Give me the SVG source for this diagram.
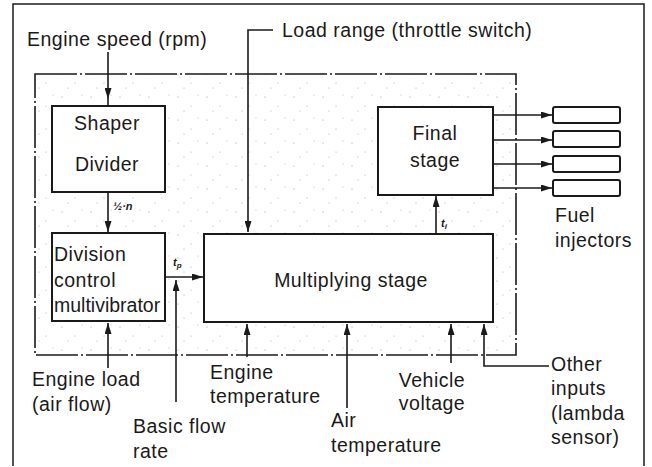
<svg xmlns="http://www.w3.org/2000/svg" width="652" height="467" viewBox="0 0 652 467">
<style>
text{font-family:"Liberation Sans",Arial,sans-serif;font-size:19.5px;letter-spacing:0.5px;fill:#1a1a1a}
.mid{text-anchor:middle}
.sym{font-size:11px;font-weight:bold;font-style:italic;letter-spacing:0}
.box{fill:#fff;stroke:#1a1a1a;stroke-width:2}
.ln{fill:none;stroke:#1a1a1a;stroke-width:1.6}
.frame{fill:none;stroke:#1a1a1a;stroke-width:1.5}
.unit{fill:url(#stip);stroke:#1a1a1a;stroke-width:1.6;stroke-dasharray:42 3 2 3}
</style>
<defs>
<marker id="ah" markerUnits="userSpaceOnUse" markerWidth="11" markerHeight="7" refX="11" refY="3.5" orient="auto">
<path d="M0,0 L11,3.5 L0,7 z" fill="#1a1a1a"/>
</marker>
<pattern id="stip" width="29" height="23" patternUnits="userSpaceOnUse">
<rect width="29" height="23" fill="#fff"/>
<circle cx="4" cy="5" r="0.6" fill="#999"/>
<circle cx="17" cy="14" r="0.6" fill="#aaa"/>
<circle cx="24" cy="3" r="0.5" fill="#aaa"/>
<circle cx="10" cy="19" r="0.5" fill="#999"/>
</pattern>
</defs>
<path class="frame" d="M13,466 V4 H644 V466"/>
<rect id="control-unit" class="unit" x="35" y="74" width="481" height="281"/>

<g id="shaper">
<rect class="box" x="52" y="106" width="113" height="86"/>
<text class="mid" x="107" y="130">Shaper</text>
<text class="mid" x="107" y="171">Divider</text>
</g>
<g id="division">
<rect class="box" x="52" y="233" width="113" height="88"/>
<text x="54" y="261">Division</text>
<text x="54" y="287">control</text>
<text x="54" y="312" style="letter-spacing:0">multivibrator</text>
</g>
<g id="multiplying">
<rect class="box" x="204" y="234" width="289" height="88"/>
<text class="mid" x="351" y="287">Multiplying stage</text>
</g>
<g id="final">
<rect class="box" x="378" y="107" width="115" height="88"/>
<text class="mid" x="435" y="140">Final</text>
<text class="mid" x="435" y="167">stage</text>
</g>
<g id="injectors">
<rect class="box" x="553" y="107" width="67" height="16" rx="2"/>
<rect class="box" x="553" y="131" width="67" height="16" rx="2"/>
<rect class="box" x="553" y="156" width="67" height="16" rx="2"/>
<rect class="box" x="553" y="180" width="67" height="16" rx="2"/>
<text x="555" y="222">Fuel</text>
<text x="555" y="247">injectors</text>
</g>

<g id="connectors">
<line class="ln" x1="108" y1="52" x2="108" y2="99" marker-end="url(#ah)"/>
<line class="ln" x1="108" y1="99" x2="108" y2="106"/>
<path class="ln" d="M273,30 H248 V232" marker-end="url(#ah)"/>
<line class="ln" x1="108" y1="192" x2="108" y2="232" marker-end="url(#ah)"/>
<line class="ln" x1="165" y1="277" x2="203" y2="277" marker-end="url(#ah)"/>
<line class="ln" x1="176" y1="402" x2="176" y2="280" marker-end="url(#ah)"/>
<line class="ln" x1="108" y1="368" x2="108" y2="323" marker-end="url(#ah)"/>
<line class="ln" x1="247" y1="357" x2="247" y2="324" marker-end="url(#ah)"/>
<line class="ln" x1="347" y1="408" x2="347" y2="324" marker-end="url(#ah)"/>
<line class="ln" x1="451" y1="363" x2="451" y2="324" marker-end="url(#ah)"/>
<path class="ln" d="M549,366 H484 V324" marker-end="url(#ah)"/>
<line class="ln" x1="436" y1="234" x2="436" y2="196" marker-end="url(#ah)"/>
<line class="ln" x1="493" y1="115" x2="552" y2="115" marker-end="url(#ah)"/>
<line class="ln" x1="493" y1="140" x2="552" y2="140" marker-end="url(#ah)"/>
<line class="ln" x1="493" y1="164" x2="552" y2="164" marker-end="url(#ah)"/>
<line class="ln" x1="493" y1="188" x2="552" y2="188" marker-end="url(#ah)"/>
<text class="sym" x="113" y="210">½·n</text>
<text class="sym" x="173" y="266">t<tspan font-size="8" dy="2">p</tspan></text>
<text class="sym" x="441" y="227">t<tspan font-size="8" dy="2">i</tspan></text>
</g>

<g id="labels">
<text x="27" y="46">Engine speed (rpm)</text>
<text x="282" y="37">Load range (throttle switch)</text>
<text x="32" y="386">Engine load</text>
<text x="32" y="411">(air flow)</text>
<text x="133" y="433">Basic flow</text>
<text x="133" y="458">rate</text>
<text x="210" y="379">Engine</text>
<text x="210" y="403">temperature</text>
<text x="331" y="427">Air</text>
<text x="331" y="452">temperature</text>
<text class="mid" x="432" y="387">Vehicle</text>
<text class="mid" x="432" y="410">voltage</text>
<text x="551" y="371">Other</text>
<text x="551" y="395">inputs</text>
<text x="551" y="420">(lambda</text>
<text x="551" y="444">sensor)</text>
</g>
</svg>
